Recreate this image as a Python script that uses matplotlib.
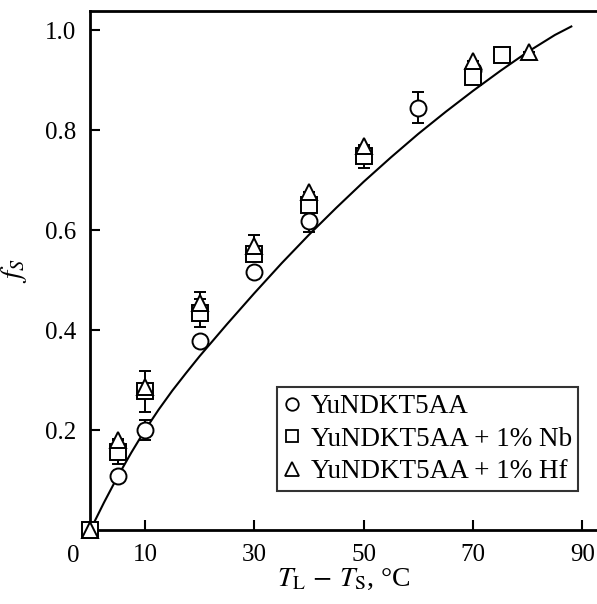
import matplotlib
matplotlib.use("Agg")
import matplotlib.pyplot as plt
from matplotlib.lines import Line2D
import numpy as np

plt.rcParams['font.family'] = ['Liberation Serif', 'DejaVu Serif']
plt.rcParams['mathtext.fontset'] = 'stix'

# Data
circ_x = [5, 10, 20, 30, 40, 60, 70]
circ_y = [0.109, 0.200, 0.378, 0.516, 0.619, 0.845, 0.921]
circ_err = [0.0, 0.020, 0.0, 0.0, 0.023, 0.031, 0.0]

sq_x = [0, 5, 10, 20, 30, 40, 50, 70, 75.4]
sq_y = [0.0, 0.157, 0.278, 0.435, 0.553, 0.651, 0.748, 0.907, 0.951]
sq_err = [0.0, 0.025, 0.041, 0.028, 0.012, 0.0, 0.023, 0.0, 0.0]

tri_x = [0, 5, 10, 20, 30, 40, 50, 70, 80.3]
tri_y = [0.0, 0.180, 0.287, 0.455, 0.568, 0.676, 0.768, 0.938, 0.957]
tri_err = [0.0, 0.0, 0.0, 0.022, 0.022, 0.0, 0.0, 0.0, 0.0]

curve_x = [0, 2.5, 5, 7.5, 10, 12.5, 15, 17.5, 20, 25, 30, 35, 40, 45, 50, 55, 60,
           65, 70, 75, 80, 85, 88]
curve_y = [0.0, 0.055, 0.107, 0.155, 0.200, 0.241, 0.279, 0.314, 0.348, 0.412,
           0.474, 0.534, 0.591, 0.645, 0.697, 0.746, 0.793, 0.837, 0.879, 0.919,
           0.957, 0.991, 1.008]

labels = ['YuNDKT5AA', 'YuNDKT5AA + 1% Nb', 'YuNDKT5AA + 1% Hf']
xticks = [10, 30, 50, 70, 90]
yticks = [0.2, 0.4, 0.6, 0.8, 1.0]

fig = plt.figure(figsize=(5.97, 6.04), dpi=100)
ax = fig.add_axes([0.1513, 0.1225, 0.8487, 0.8593])

ax.plot(curve_x, curve_y, color='black', lw=1.5, zorder=2)

mk = dict(mfc='white', mec='black', mew=1.4, ls='none',
          ecolor='black', elinewidth=1.4, capsize=4, capthick=1.4, zorder=3)
for x, y, e, m, s in [(circ_x, circ_y, circ_err, 'o', 11.5),
                      (sq_x, sq_y, sq_err, 's', 11),
                      (tri_x, tri_y, tri_err, '^', 12)]:
    cont = ax.errorbar(x, y, yerr=e, marker=m, ms=s, **mk)
    cont.lines[0].set_clip_on(False)

ax.set_xlim(0, 92.7)
ax.set_ylim(0, 1.039)
ax.set_xticks(xticks)
ax.set_xticklabels([str(t) for t in xticks])
ax.set_yticks(yticks)
ax.set_yticklabels([f'{t:.1f}' for t in yticks])
ax.tick_params(direction='in', length=7, width=1.5, labelsize=18, pad=10)
for s in ['left', 'bottom', 'top']:
    ax.spines[s].set_linewidth(2)
ax.spines['right'].set_visible(False)

ax.text(-3.1, -0.053, '0', fontsize=18, ha='center', va='center', clip_on=False)

ax.set_xlabel(r'$T_\mathrm{L}\,-\,T_\mathrm{S}$, °C', fontsize=20, labelpad=1)
ax.set_ylabel(r'$f_S$', fontsize=21, labelpad=12)

handles = [Line2D([], [], ls='none', marker=m, ms=s, mfc='white', mec='black', mew=1.3)
           for m, s in [('o', 9), ('s', 9), ('^', 9.5)]]
W, H = fig.get_size_inches() * fig.dpi
p = ax.transAxes.inverted().transform((276.7, H - 387.3))
leg = ax.legend(handles, labels, loc='upper left', bbox_to_anchor=(p[0], p[1]),
                fontsize=19.5, frameon=True, fancybox=False, edgecolor='black',
                handlelength=0.6, handletextpad=0.4, borderpad=0.25, labelspacing=0.28,
                borderaxespad=0)
leg.get_frame().set_linewidth(1.5)
fig.savefig('out.png', dpi=100)
